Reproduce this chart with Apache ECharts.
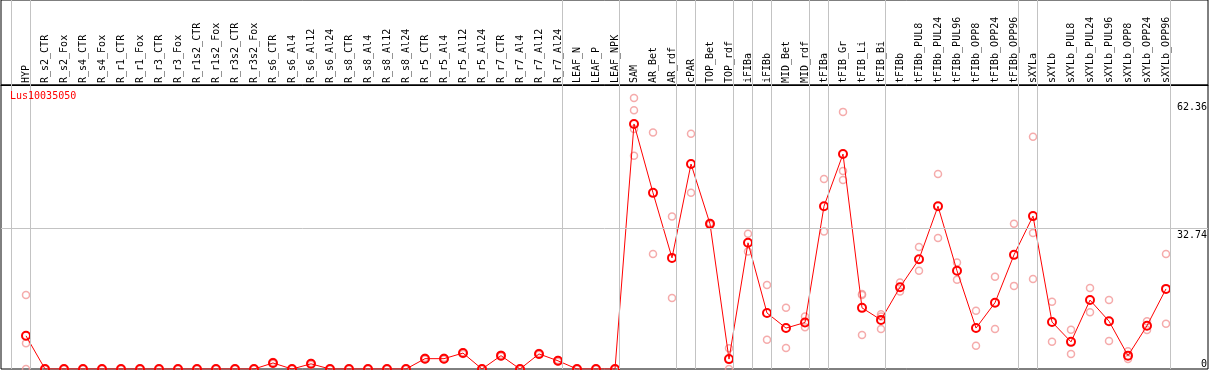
<!DOCTYPE html>
<html><head><meta charset="utf-8">
<script src="https://cdn.jsdelivr.net/npm/echarts@6/dist/echarts.min.js"></script>
<style>html,body{margin:0;padding:0;background:#fff}#c{width:1209px;height:370px}</style>
</head><body><div id="c"></div>
<script>
const chartTitle = 'Lus10035050';
const categories = ['HYP','R_s2_CTR','R_s2_Fox','R_s4_CTR','R_s4_Fox','R_r1_CTR','R_r1_Fox','R_r3_CTR','R_r3_Fox','R_r1s2_CTR','R_r1s2_Fox','R_r3s2_CTR','R_r3s2_Fox','R_s6_CTR','R_s6_Al4','R_s6_Al12','R_s6_Al24','R_s8_CTR','R_s8_Al4','R_s8_Al12','R_s8_Al24','R_r5_CTR','R_r5_Al4','R_r5_Al12','R_r5_Al24','R_r7_CTR','R_r7_Al4','R_r7_Al12','R_r7_Al24','LEAF_N','LEAF_P','LEAF_NPK','SAM','AR_Bet','AR_rdf','cPAR','TOP_Bet','TOP_rdf','iFIBa','iFIBb','MID_Bet','MID_rdf','tFIBa','tFIB_Gr','tFIB_Li','tFIB_Bi','tFIBb','tFIBb_PUL8','tFIBb_PUL24','tFIBb_PUL96','tFIBb_OPP8','tFIBb_OPP24','tFIBb_OPP96','sXYLa','sXYLb','sXYLb_PUL8','sXYLb_PUL24','sXYLb_PUL96','sXYLb_OPP8','sXYLb_OPP24','sXYLb_OPP96'];
const means = [7.7,0,0,0,0,0,0,0,0,0,0,0,0,1.4,0,1.2,0,0,0,0,0,2.4,2.4,3.7,0,3.1,0,3.5,1.9,0,0,0,56.9,40.9,25.8,47.6,33.7,2.3,29.3,13.0,9.5,10.8,37.8,49.9,14.2,11.4,19.0,25.5,37.8,22.8,9.5,15.4,26.5,35.5,10.9,6.3,16.0,11.1,3.1,10.05,18.6];
const rep1 = [17.2,0,0,0,0,0,0,0,0,0,0,0,0,1.6,0,1.4,0,0,0,0,0,2.6,2.6,3.9,0,3.3,0,3.7,2.1,0,0,0,62.9,54.9,35.4,54.6,33.9,4.8,31.4,19.5,14.2,12.2,44.1,59.7,17.4,12.7,20.1,28.3,45.3,24.7,13.5,21.4,33.7,53.9,15.6,9.1,18.8,16.0,4.1,11.1,26.7];
const rep2 = [6.0,0,0,0,0,0,0,0,0,0,0,0,0,1.2,0,1.0,0,0,0,0,0,2.2,2.2,3.5,0,2.9,0,3.3,1.7,0,0,0,60.1,26.7,16.5,40.9,33.5,0,27.3,6.8,4.9,9.7,31.9,46.0,17.2,12.2,18.0,22.8,30.4,20.7,5.4,9.3,19.3,31.6,6.3,3.5,13.2,6.5,2.3,9.05,10.5];
const rep3 = [0,null,null,null,null,null,null,null,null,null,null,null,null,null,null,null,null,null,null,null,null,null,null,null,null,null,null,null,null,null,null,null,55.7,null,null,null,null,null,null,null,null,null,null,43.9,7.9,9.3,null,null,null,null,null,null,null,20.9,null,null,null,null,null,null,null];
const rep4 = [null,null,null,null,null,null,null,null,null,null,null,null,null,null,null,null,null,null,null,null,null,null,null,null,null,null,null,null,null,null,null,null,49.5,null,null,null,null,null,null,null,null,null,null,null,null,null,null,null,null,null,null,null,null,null,null,null,null,null,null,null,null];
const yTicks = [0, 32.74, 62.36];
// index of the last category of each group (group separators)
const groupEnds = [-1, 0, 28, 31, 34, 35, 37, 38, 39, 41, 42, 45, 52, 53, 60];

const FONT = 'DejaVu Sans Mono';
const toPts = arr => arr.map((v, i) => v == null ? null : [i, v]).filter(p => p);
const X_MIN = -25 / 19, X_MAX = 1182 / 19;
const sepLines = groupEnds.map(g => ({xAxis: g + 0.24}));
const sepStyle = {color: '#c3c3c3', width: 1, type: 'solid'};

const chart = echarts.init(document.getElementById('c'), null, {renderer: 'canvas'});
chart.setOption({
  animation: false,
  textStyle: {fontFamily: FONT},
  title: {
    text: chartTitle, left: 10, top: 91, padding: 0,
    textStyle: {color: '#ff0000', fontSize: 10, fontWeight: 'normal', fontFamily: FONT}
  },
  grid: [
    {left: 1, right: 1, top: 85, bottom: 1, show: true, borderColor: '#000', borderWidth: 1,
     containLabel: false, outerBoundsMode: 'none'},
    {left: 1, right: 1, top: 0, height: 85, show: true, borderColor: '#000', borderWidth: 1,
     containLabel: false, outerBoundsMode: 'none'}
  ],
  xAxis: [
    {
      type: 'value', gridIndex: 0, position: 'top', min: X_MIN, max: X_MAX,
      axisLine: {show: true, onZero: false, lineStyle: {color: '#000', width: 1}},
      axisTick: {show: false}, splitLine: {show: false},
      axisLabel: {
        customValues: categories.map((c, i) => i),
        formatter: v => categories[Math.round(v)] || '',
        rotate: -90, margin: 2, fontSize: 10, color: '#000', fontFamily: FONT,
        showMinLabel: true, showMaxLabel: true, hideOverlap: false
      }
    },
    {
      type: 'value', gridIndex: 1, min: X_MIN, max: X_MAX, show: false
    }
  ],
  yAxis: [
    {
      type: 'value', gridIndex: 0, position: 'right', min: 0, max: 65.94,
      axisLine: {show: false, onZero: false}, axisTick: {show: false}, splitLine: {show: false},
      axisLabel: {
        inside: true, customValues: yTicks, formatter: v => String(v),
        margin: 1, fontSize: 10, color: '#000', fontFamily: FONT,
        verticalAlign: 'top', verticalAlignMinLabel: 'bottom',
        padding: [2, 0, 0, 0],
        showMinLabel: true, showMaxLabel: true
      }
    },
    {type: 'value', gridIndex: 1, min: 0, max: 1, show: false}
  ],
  series: [
    {
      type: 'scatter', xAxisIndex: 1, yAxisIndex: 1, data: [], silent: true,
      markLine: {
        silent: true, symbol: 'none', animation: false, label: {show: false},
        lineStyle: sepStyle, emphasis: {disabled: true}, data: sepLines
      }
    },
    {
      type: 'scatter', z: 2, xAxisIndex: 0, yAxisIndex: 0,
      data: [].concat(toPts(rep1), toPts(rep2), toPts(rep3), toPts(rep4)),
      symbol: 'circle', symbolSize: 7,
      itemStyle: {color: 'rgba(0,0,0,0)', borderColor: '#f29696', borderWidth: 1.5},
      emphasis: {disabled: true}, silent: true,
      markLine: {
        silent: true, symbol: 'none', animation: false, label: {show: false},
        lineStyle: sepStyle, emphasis: {disabled: true},
        data: sepLines.concat([{yAxis: yTicks[1]}])
      }
    },
    {
      type: 'line', z: 3, xAxisIndex: 0, yAxisIndex: 0,
      data: toPts(means),
      symbol: 'circle', symbolSize: 8, showAllSymbol: true,
      lineStyle: {color: '#ff0000', width: 1},
      itemStyle: {color: 'rgba(0,0,0,0)', borderColor: '#ff0000', borderWidth: 2},
      emphasis: {disabled: true}, silent: true
    }
  ]
});
</script></body></html>
